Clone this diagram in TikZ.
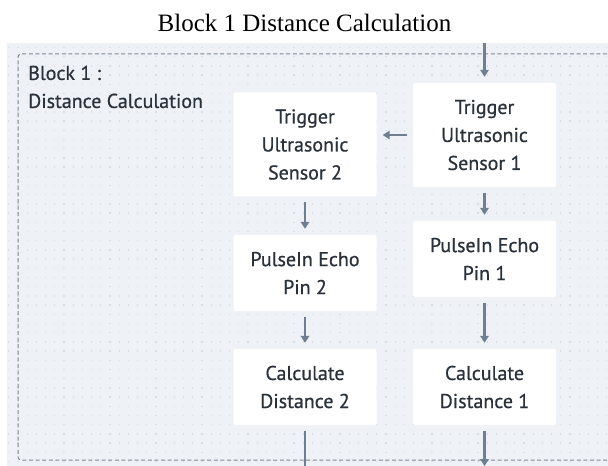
\documentclass[tikz,border=0pt]{standalone}
\usepackage{fontspec}
\usetikzlibrary{arrows.meta}
\newfontfamily\boxfont[FakeBold=0.6]{PT Sans}
\newfontfamily\titlefont{Liberation Serif}
\definecolor{panelbg}{HTML}{EEF2F6}
\definecolor{griddot}{HTML}{D8DEE5}
\definecolor{framegray}{HTML}{7E8894}
\definecolor{inkdark}{HTML}{29313B}
\definecolor{flowgray}{HTML}{6F7E90}
\tikzset{
  stepbox/.style={fill=white, rounded corners=2bp, minimum width=143bp,
    inner sep=0pt, align=center, text=inkdark,
    font=\boxfont\fontsize{20bp}{28bp}\selectfont},
  tallbox/.style={stepbox, minimum height=104bp},
  flatbox/.style={stepbox, minimum height=76bp},
  flow/.style={draw=flowgray, line width=2.2bp,
    -{Triangle[length=7bp,width=8.5bp]}, shorten <=5.5bp, shorten >=6bp},
}
\begin{document}
\begin{tikzpicture}[x=1bp,y=-1bp]
\useasboundingbox (0,0) rectangle (608,466);
% title above the panel
\node[anchor=base, font=\titlefont\fontsize{25bp}{30bp}\selectfont]
  (title) at (304.5,32) {Block 1 Distance Calculation};
% panel with dotted grid
\fill[panelbg] (7,43) rectangle (608,466);
\foreach \gy in {47.5,56.7,...,466}
  \draw[griddot, line width=1.3bp, dash pattern=on 1.3bp off 7.9bp]
    (8.1,\gy) -- (608,\gy);
% dashed frame of the block
\draw[framegray, line width=1bp, dash pattern=on 4bp off 2.6bp, rounded corners=3bp]
  (640,54) -- (18,54) -- (18,460) -- (640,460);
\node[anchor=north west, align=left, text=inkdark, inner sep=0pt,
  font=\boxfont\fontsize{20bp}{28bp}\selectfont]
  (blocklabel) at (28,65.5) {Block 1 :\\Distance Calculation};
% sensor 1 column
\node[tallbox] (ts1) at (484.5,135) {Trigger\\Ultrasonic\\Sensor 1};
\node[flatbox] (pe1) at (484.5,259) {PulseIn Echo\\Pin 1};
\node[flatbox] (cd1) at (484.5,387) {Calculate\\Distance 1};
% sensor 2 column
\node[tallbox] (ts2) at (305,144.5) {Trigger\\Ultrasonic\\Sensor 2};
\node[flatbox] (pe2) at (305,273) {PulseIn Echo\\Pin 2};
\node[flatbox] (cd2) at (305,387) {Calculate\\Distance 2};
% flow
\coordinate (in1) at (484.5,37.5);
\coordinate (out1) at (484.5,472);
\coordinate (out2) at (305,482);
\draw[flow] (in1) -- (ts1);
\draw[flow] (ts1.west) -- (ts1.west -| ts2.east);
\draw[flow] (ts1) -- (pe1);
\draw[flow] (ts2) -- (pe2);
\draw[flow] (pe1) -- (cd1);
\draw[flow] (pe2) -- (cd2);
\draw[flow] (cd1) -- (out1);
\draw[flow] (cd2) -- (out2);
\end{tikzpicture}
\end{document}
